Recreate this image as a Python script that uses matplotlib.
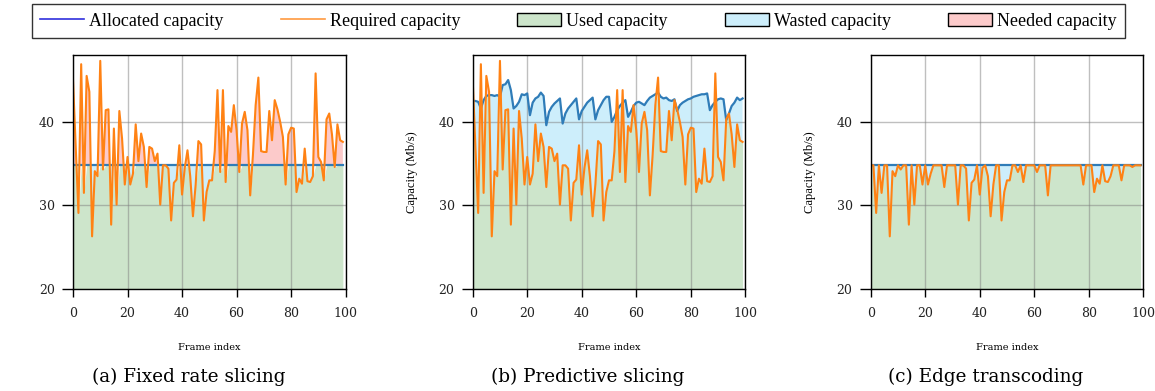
import numpy as np
import matplotlib
matplotlib.use("Agg")
import matplotlib.pyplot as plt
from matplotlib.lines import Line2D
from matplotlib.patches import Patch

plt.rcParams["font.family"] = ["Liberation Serif", "DejaVu Serif"]
WIDE = ["DejaVu Serif"]

# Required bitrate per frame (Mb/s)
required = [45.0, 37.0, 29.1, 46.9, 31.5, 45.5, 43.6, 26.3, 34.1, 33.5,
            47.3, 34.3, 41.4, 41.5, 27.7, 39.2, 30.1, 41.3, 38.0, 32.5,
            35.8, 32.5, 33.8, 39.7, 35.3, 38.6, 37.0, 32.2, 37.0, 36.8,
            35.3, 36.2, 30.1, 34.8, 34.8, 34.4, 28.2, 32.7, 33.1, 37.2,
            31.3, 34.5, 36.6, 33.5, 28.7, 32.5, 37.7, 37.3, 28.2, 31.6,
            33.0, 33.0, 36.5, 43.8, 34.0, 43.8, 32.8, 39.5, 38.8, 42.0,
            39.0, 34.0, 39.8, 41.2, 39.0, 31.2, 36.0, 42.0, 45.3, 36.5,
            36.4, 36.4, 41.3, 37.8, 42.6, 41.5, 40.0, 38.2, 32.5, 38.5,
            39.3, 39.2, 31.6, 33.2, 32.6, 36.8, 32.9, 32.8, 33.5, 45.8,
            35.8, 35.2, 33.0, 40.3, 41.0, 38.5, 34.6, 39.7, 37.8, 37.6]

# Fixed slice capacity (Mb/s)
fixed_capacity = 34.8

# Capacity allocated by the predictive slicer
predictive = [42.5, 42.5, 42.4, 41.6, 42.6, 43.1, 43.2, 43.2, 43.1, 43.2,
              43.0, 44.4, 44.5, 45.0, 43.8, 41.6, 41.9, 42.4, 43.3, 43.2,
              43.4, 40.8, 42.3, 42.8, 43.0, 43.5, 43.1, 39.6, 41.2, 41.8,
              42.2, 42.5, 42.8, 39.8, 41.0, 41.6, 42.0, 42.4, 42.8, 40.3,
              41.3, 41.8, 42.3, 42.6, 42.9, 40.3, 41.4, 42.0, 42.6, 43.0,
              43.0, 40.0, 40.6, 41.4, 41.9, 42.3, 42.6, 40.6, 41.2, 41.9,
              42.3, 42.4, 42.2, 42.0, 42.5, 42.9, 43.1, 43.3, 43.5, 43.0,
              42.8, 42.9, 42.6, 42.5, 42.7, 41.3, 42.0, 42.3, 42.5, 42.7,
              42.8, 43.0, 43.1, 43.2, 43.3, 43.3, 43.4, 41.4, 42.0, 42.4,
              42.7, 42.8, 42.7, 40.2, 41.0, 41.9, 42.3, 42.9, 42.6, 42.8]

captions = ["(a) Fixed rate slicing", "(b) Predictive slicing", "(c) Edge transcoding"]
legend_labels = ["Allocated capacity", "Required capacity", "Used capacity",
                 "Wasted capacity", "Needed capacity"]

frames = np.arange(len(required))
req = np.array(required)
fixed = np.full(len(required), fixed_capacity)
pred = np.array(predictive)
# Edge transcoding caps the stream at the slice capacity
transcoded = np.minimum(req, fixed)

C_USED = "#cde5cb"
C_WASTE = "#cdeefb"
C_NEED = "#fccaca"
C_ALLOC = "#2f7cb8"
C_REQ = "#ff8214"

W, H = 1155, 391
fig = plt.figure(figsize=(W / 100, H / 100), dpi=100)

panels = [
    (73, fixed, req),
    (472.7, pred, req),
    (870.7, fixed, transcoded),
]
ax_w = 272.6
ax_top, ax_bot = 55, 289
ax_h = ax_bot - ax_top

for i, (left, alloc, demand) in enumerate(panels):
    ax = fig.add_axes([left / W, 1 - ax_bot / H, ax_w / W, ax_h / H])
    used = np.minimum(alloc, demand)
    ax.fill_between(frames, 0, used, color=C_USED, lw=0, zorder=1)
    ax.fill_between(frames, demand, alloc, where=alloc >= demand,
                    interpolate=True, color=C_WASTE, lw=0, zorder=1)
    ax.fill_between(frames, alloc, demand, where=demand >= alloc,
                    interpolate=True, color=C_NEED, lw=0, zorder=1)
    ax.grid(True, color="#808080", alpha=0.5, lw=1.0, zorder=2)
    ax.set_axisbelow(False)
    ax.plot(frames, alloc, color=C_ALLOC, lw=1.6, zorder=3)
    ax.plot(frames, demand, color=C_REQ, lw=1.5, zorder=4)
    ax.set_xlim(0, 100)
    ax.set_ylim(20, 48)
    ax.set_xticks([0, 20, 40, 60, 80, 100])
    ax.set_yticks([20, 30, 40])
    ax.tick_params(axis="x", direction="out", length=5.8, width=1, pad=7.5)
    ax.tick_params(axis="y", direction="out", length=7.6, width=1, pad=5.5)
    for lab in ax.get_xticklabels() + ax.get_yticklabels():
        lab.set_family(WIDE)
        lab.set_fontsize(9)
        lab.set_color("#222222")
    for s in ax.spines.values():
        s.set_linewidth(1.0)
        s.set_zorder(5)
    ax.set_xlabel("Frame index", fontsize=7, family=WIDE)
    ax.xaxis.set_label_coords(0.5, -(347 - ax_bot) / ax_h)
    ax.xaxis.label.set_va("center")
    if i > 0:
        ax.set_ylabel("Capacity (Mb/s)", fontsize=9)
        ax.yaxis.set_label_coords(-61 / ax_w, 0.5)
        ax.yaxis.label.set_va("center")
    cx = left + ax_w / 2 - 21
    fig.text(cx / W, 1 - 377 / H, captions[i], ha="center", va="center",
             fontsize=13.2, family=WIDE)

handles = [
    Line2D([], [], color="#3030dd", lw=1.2),
    Line2D([], [], color="#ff9a40", lw=1.2),
    Patch(facecolor=C_USED, edgecolor="black", lw=1.0),
    Patch(facecolor=C_WASTE, edgecolor="black", lw=1.0),
    Patch(facecolor=C_NEED, edgecolor="black", lw=1.0),
]
leg = fig.legend(handles, legend_labels, ncol=5, loc="upper center",
                 bbox_to_anchor=(578.3 / W, 1 - 4 / H),
                 fontsize=13, handlelength=2.44, handleheight=0.78,
                 handletextpad=0.28, columnspacing=3.15, borderaxespad=0,
                 fancybox=False, frameon=True, borderpad=0.48)
leg.get_frame().set_edgecolor("black")
leg.get_frame().set_linewidth(1.0)

fig.savefig("out.png", dpi=100)
